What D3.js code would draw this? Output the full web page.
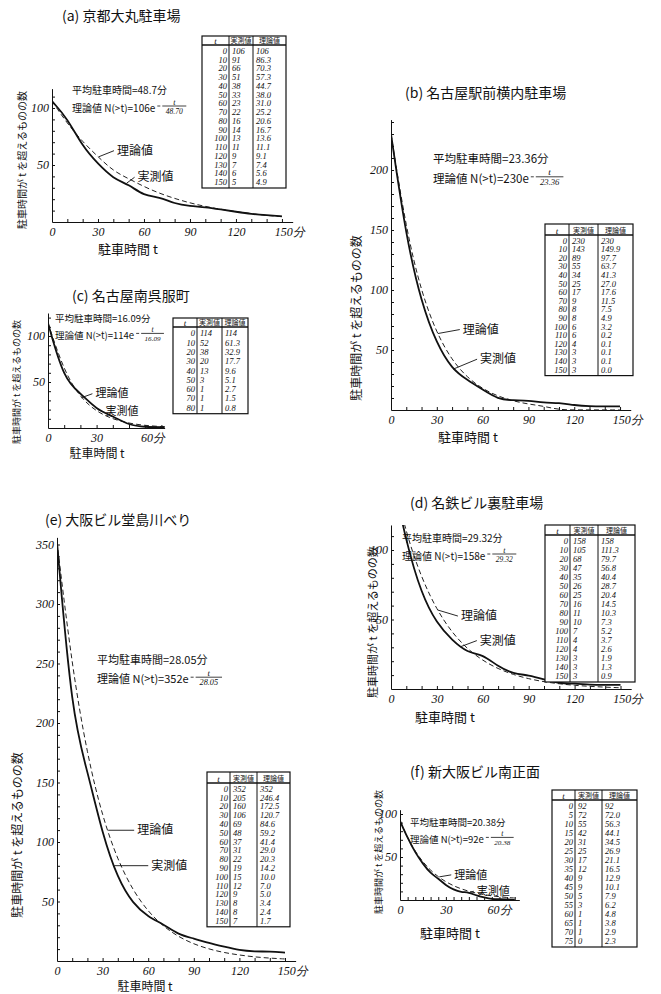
<!DOCTYPE html>
<html>
<head>
<meta charset="utf-8">
<script src="https://cdn.jsdelivr.net/npm/d3@7"></script>
<style>
body { margin: 0; background: #fff; }
svg { display: block; }
.jp { font-family: "Noto Sans CJK JP", sans-serif; fill: #111; }
.num { font-family: "Liberation Serif", serif; font-style: italic; fill: #111; }
</style>
</head>
<body>
<svg id="chart" width="661" height="994"></svg>
<script>
// minutes in the tables
var minutes10 = [0, 10, 20, 30, 40, 50, 60, 70, 80, 90, 100, 110, 120, 130, 140, 150];
var minutesC = [0, 10, 20, 30, 40, 50, 60, 70, 80];
var minutesF = [0, 5, 10, 15, 20, 25, 30, 35, 40, 45, 50, 55, 60, 65, 70, 75];

var obsA = [106, 91, 66, 51, 38, 33, 23, 22, 16, 14, 13, 11, 9, 7, 6, 5];
var thA = [106, 86.3, 70.3, 57.3, 44.7, 38.0, 31.0, 25.2, 20.6, 16.7, 13.6, 11.1, 9.1, 7.4, 5.6, 4.9];
var obsB = [230, 143, 89, 55, 34, 25, 17, 9, 8, 8, 6, 6, 4, 3, 3, 3];
var thB = [230, 149.9, 97.7, 63.7, 41.3, 27.0, 17.6, 11.5, 7.5, 4.9, 3.2, 0.2, 0.1, 0.1, 0.1, 0.0];
var obsC = [114, 52, 38, 20, 13, 3, 1, 1, 1];
var thC = [114, 61.3, 32.9, 17.7, 9.6, 5.1, 2.7, 1.5, 0.8];
var obsD = [158, 105, 68, 47, 35, 26, 25, 16, 11, 10, 7, 4, 4, 3, 3, 3];
var thD = [158, 111.3, 79.7, 56.8, 40.4, 28.7, 20.4, 14.5, 10.3, 7.3, 5.2, 3.7, 2.6, 1.9, 1.3, 0.9];
var obsE = [352, 205, 160, 106, 69, 48, 37, 31, 22, 19, 15, 12, 9, 8, 8, 7];
var thE = [352, 246.4, 172.5, 120.7, 84.6, 59.2, 41.4, 29.0, 20.3, 14.2, 10.0, 7.0, 5.0, 3.4, 2.4, 1.7];
var obsF = [92, 72, 55, 42, 31, 25, 17, 12, 9, 9, 5, 3, 1, 1, 1, 0];
var thF = [92, 72.0, 56.3, 44.1, 34.5, 26.9, 21.1, 16.5, 12.9, 10.1, 7.9, 6.2, 4.8, 3.8, 2.9, 2.3];

// titles and formula constants
var titles = ["(a) 京都大丸駐車場", "(b) 名古屋駅前横内駐車場", "(c) 名古屋南呉服町",
  "(d) 名鉄ビル裏駐車場", "(e) 大阪ビル堂島川べり", "(f) 新大阪ビル南正面"];
var meanTimes = ["48.7", "23.36", "16.09", "29.32", "28.05", "20.38"];
var coefs = ["106", "230", "114", "158", "352", "92"];
var denoms = ["48.70", "23.36", "16.09", "29.32", "28.05", "20.38"];

var xLabelTicks = [0, 30, 60, 90, 120, 150];
var xLabelTicksShort = [0, 30, 60];
var yLabelTicks = [50, 100, 150, 200, 250, 300, 350];

var yTitle = "駐車時間が t を超えるものの数";
var xTitle = "駐車時間 t";

var svg = d3.select("#chart");

// panel layout
var panels = [
  { t: minutes10, obs: obsA, th: thA, ox: 52, oy: 222, kx: 1.533, ky: 1.14, xMax: 157, yMax: 117, xTicks: xLabelTicks,
    title: [62, 21], formula: [72, 94], fsize: 10, ylab: [22, 160], ysize: 10, xlab: [128, 254], xsize: 13, nsize: 12,
    table: { x: 202, y: 36, cols: [27, 24, 33], head: 9, row: 8.75 },
    thNote: { t: 30, dx: 17, dy: -6 }, obNote: { t: 48, dx: 10, dy: -6 } },
  { t: minutes10, obs: obsB, th: thB, ox: 391, oy: 410, kx: 1.527, ky: 1.2, xMax: 157, yMax: 242, xTicks: xLabelTicks,
    title: [405, 98], formula: [433, 163], fsize: 11.5, ylab: [357, 318], ysize: 12, xlab: [468, 442], xsize: 13, nsize: 12,
    table: { x: 545, y: 224, cols: [24, 29, 35], head: 11, row: 8.6 },
    thNote: { t: 30, dx: 24, dy: -4 }, obNote: { t: 40, dx: 26, dy: -10 } },
  { t: minutesC, obs: obsC, th: thC, ox: 48, oy: 428, kx: 1.62, ky: 0.92, xMax: 72, yMax: 125, xTicks: xLabelTicksShort,
    title: [72, 301], formula: [55, 322], fsize: 9.5, ylab: [17, 382], ysize: 9, xlab: [97, 458], xsize: 12, nsize: 11,
    table: { x: 173, y: 318, cols: [24, 25, 26], head: 9, row: 9.3 },
    thNote: { t: 20, dx: 13, dy: -4 }, obNote: { t: 30, dx: 7, dy: 2 } },
  { t: minutes10, obs: obsD, th: thD, ox: 391, oy: 689, kx: 1.53, ky: 1.39, xMax: 157, yMax: 118, xTicks: xLabelTicks,
    title: [410, 508], formula: [402, 542], fsize: 10, ylab: [373, 622], ysize: 11, xlab: [445, 722], xsize: 13, nsize: 12,
    table: { x: 545, y: 525, cols: [25, 28, 37], head: 10, row: 9.0 },
    thNote: { t: 30, dx: 22, dy: 6 }, obNote: { t: 45, dx: 18, dy: -6 } },
  { t: minutes10, obs: obsE, th: thE, ox: 57, oy: 961, kx: 1.52, ky: 1.19, xMax: 157, yMax: 356, xTicks: xLabelTicks,
    title: [45, 525], formula: [97, 664], fsize: 11, ylab: [18, 835], ysize: 12, xlab: [145, 991], xsize: 12, nsize: 12,
    table: { x: 207, y: 772, cols: [23, 27, 33], head: 11, row: 8.8 },
    thNote: { t: 33, dx: 28, dy: 0 }, obNote: { t: 37, dx: 36, dy: 0 } },
  { t: minutesF, obs: obsF, th: thF, ox: 400, oy: 900, kx: 1.53, ky: 0.86, xMax: 78, yMax: 105, xTicks: xLabelTicksShort,
    title: [410, 777], formula: [410, 826], fsize: 9.5, ylab: [379, 852], ysize: 9, xlab: [450, 938], xsize: 13, nsize: 11,
    table: { x: 552, y: 790, cols: [23, 27, 35], head: 10, row: 9.0 },
    thNote: { t: 25, dx: 14, dy: -2 }, obNote: { t: 45, dx: 6, dy: -1 } }
];

panels.forEach(function(p, i) {
  var g = svg.append("g");
  var x = d3.scaleLinear().domain([0, p.xMax]).range([p.ox, p.ox + p.xMax * p.kx]);
  var y = d3.scaleLinear().domain([0, p.yMax]).range([p.oy, p.oy - p.yMax * p.ky]);
  var lastTick = p.xTicks[p.xTicks.length - 1];
  var minorX = i == 5 ? 5 : 10;

  // axes
  var xAxis = d3.axisBottom(x)
    .tickValues(d3.range(0, p.xMax, minorX))
    .tickSizeInner(-3).tickSizeOuter(0).tickPadding(5)
    .tickFormat(function(d) {
      if (p.xTicks.indexOf(d) == -1) return "";
      return d == lastTick ? d + "分" : d;
    });
  var gx = g.append("g").attr("transform", "translate(0," + p.oy + ")").call(xAxis);
  var yAxis = d3.axisLeft(y)
    .tickValues(d3.range(10, p.yMax, 10))
    .tickSizeInner(-3).tickSizeOuter(0).tickPadding(3)
    .tickFormat(function(d) { return yLabelTicks.indexOf(d) == -1 ? "" : d; });
  var gy = g.append("g").attr("transform", "translate(" + p.ox + ",0)").call(yAxis);
  [gx, gy].forEach(function(a) {
    a.selectAll("path, line").attr("stroke", "#111").attr("stroke-width", 1);
    a.selectAll("text").attr("class", "num").attr("font-size", 12);
  });
  gx.selectAll(".tick text").filter(function(d) { return d == lastTick; })
    .attr("dx", "0.6em");

  // curves
  var clipId = "clip" + i;
  svg.append("clipPath").attr("id", clipId).append("rect")
    .attr("x", p.ox).attr("y", y(p.yMax)).attr("width", x(p.xMax) - p.ox).attr("height", p.oy - y(p.yMax));
  var line = d3.line().x(function(d) { return x(d[0]); }).y(function(d) { return y(d[1]); })
    .curve(d3.curveBasis);
  var obsPts = p.t.map(function(t, k) { return [t, p.obs[k]]; });
  var thPts = p.t.map(function(t, k) { return [t, p.th[k]]; });
  g.append("path").attr("d", line(thPts)).attr("clip-path", "url(#" + clipId + ")")
    .attr("fill", "none").attr("stroke", "#222").attr("stroke-width", 1).attr("stroke-dasharray", "5,3");
  g.append("path").attr("d", line(obsPts)).attr("clip-path", "url(#" + clipId + ")")
    .attr("fill", "none").attr("stroke", "#111").attr("stroke-width", 1.8);

  // notes pointing at curves
  function note(n, pts, label) {
    var k = p.t.indexOf(n.t);
    var v;
    if (k >= 0) v = pts[k][1];
    else {
      var j = d3.bisector(function(d) { return d[0]; }).left(pts, n.t);
      var a = pts[j - 1], b = pts[j];
      v = a[1] + (b[1] - a[1]) * (n.t - a[0]) / (b[0] - a[0]);
    }
    var tx = x(n.t), ty = y(v);
    var lx = tx + n.dx, ly = ty + n.dy;
    g.append("line").attr("x1", lx - 1).attr("y1", ly).attr("x2", tx + 1).attr("y2", ty)
      .attr("stroke", "#111").attr("stroke-width", 0.9);
    g.append("text").attr("class", "jp").attr("x", lx).attr("y", ly + p.nsize / 3).attr("font-size", p.nsize)
      .attr("text-anchor", n.dx < 0 ? "end" : "start")
      .attr("dx", n.dx < 0 ? -2 : 2).text(label);
  }
  note(p.thNote, thPts, "理論値");
  note(p.obNote, obsPts, "実測値");

  // titles
  g.append("text").attr("class", "jp").attr("x", p.title[0]).attr("y", p.title[1])
    .attr("font-size", 14).text(titles[i]);
  g.append("text").attr("class", "jp").attr("font-size", p.xsize)
    .attr("transform", "translate(" + p.xlab[0] + "," + p.xlab[1] + ")")
    .attr("text-anchor", "middle").text(xTitle);
  g.append("text").attr("class", "jp").attr("font-size", p.ysize)
    .attr("transform", "translate(" + p.ylab[0] + "," + p.ylab[1] + ") rotate(-90)")
    .attr("text-anchor", "middle").attr("dy", "0.35em").text(yTitle);

  // formula
  var fx = p.formula[0], fy = p.formula[1], fs = p.fsize;
  g.append("text").attr("class", "jp").attr("x", fx).attr("y", fy).attr("font-size", fs)
    .text("平均駐車時間=" + meanTimes[i] + "分");
  var f2 = g.append("text").attr("class", "jp").attr("x", fx).attr("y", fy + fs * 1.75).attr("font-size", fs)
    .text("理論値 N(>t)=" + coefs[i] + "e");
  var w = f2.node().getComputedTextLength();
  var ex = fx + w + 2, ey = fy + fs * 1.2;
  var fw = fs * 2.4;
  g.append("line").attr("x1", ex).attr("x2", ex + 3).attr("y1", ey).attr("y2", ey)
    .attr("stroke", "#111").attr("stroke-width", 0.8);
  g.append("line").attr("x1", ex + 5).attr("x2", ex + 5 + fw).attr("y1", ey).attr("y2", ey)
    .attr("stroke", "#111").attr("stroke-width", 0.8);
  g.append("text").attr("class", "num").attr("x", ex + 5 + fw / 2).attr("y", ey - 1.5).attr("font-size", fs * 0.8)
    .attr("text-anchor", "middle").text("t");
  g.append("text").attr("class", "num").attr("x", ex + 5 + fw / 2).attr("y", ey + fs * 0.75).attr("font-size", fs * 0.75)
    .attr("text-anchor", "middle").text(denoms[i]);

  // table
  var tb = p.table;
  var tw = d3.sum(tb.cols);
  var th = tb.head + tb.row * p.t.length + 3;
  var tg = g.append("g").attr("transform", "translate(" + tb.x + "," + tb.y + ")");
  tg.append("rect").attr("width", tw).attr("height", th)
    .attr("fill", "#fff").attr("stroke", "#111").attr("stroke-width", 1.2);
  tg.append("line").attr("x1", 0).attr("x2", tw).attr("y1", tb.head).attr("y2", tb.head)
    .attr("stroke", "#111").attr("stroke-width", 1.6);
  var c1 = tb.cols[0], c2 = tb.cols[0] + tb.cols[1];
  [c1, c2].forEach(function(cx) {
    tg.append("line").attr("x1", cx).attr("x2", cx).attr("y1", 0).attr("y2", th)
      .attr("stroke", "#111").attr("stroke-width", 1);
  });
  tg.append("text").attr("class", "num").attr("x", c1 / 2).attr("y", tb.head - 1.5)
    .attr("font-size", 9).attr("text-anchor", "middle").text("t");
  tg.append("text").attr("class", "jp").attr("x", c1 + tb.cols[1] / 2).attr("y", tb.head - 2)
    .attr("font-size", 7).attr("text-anchor", "middle").text("実測値");
  tg.append("text").attr("class", "jp").attr("x", c2 + tb.cols[2] / 2).attr("y", tb.head - 2)
    .attr("font-size", 7).attr("text-anchor", "middle").text("理論値");
  var fmt = d3.format(".1f");
  var rows = tg.selectAll(".row").data(p.t).enter().append("g")
    .attr("transform", function(d, k) { return "translate(0," + (tb.head + tb.row * (k + 1)) + ")"; });
  rows.append("text").attr("class", "num").attr("x", c1 - 2).attr("font-size", 8.5)
    .attr("text-anchor", "end").text(function(d) { return d; });
  rows.append("text").attr("class", "num").attr("x", c1 + 3).attr("font-size", 8.5)
    .text(function(d, k) { return p.obs[k]; });
  rows.append("text").attr("class", "num").attr("x", c2 + 3).attr("font-size", 8.5)
    .text(function(d, k) { return k == 0 ? p.th[k] : fmt(p.th[k]); });
});
</script>
</body>
</html>
